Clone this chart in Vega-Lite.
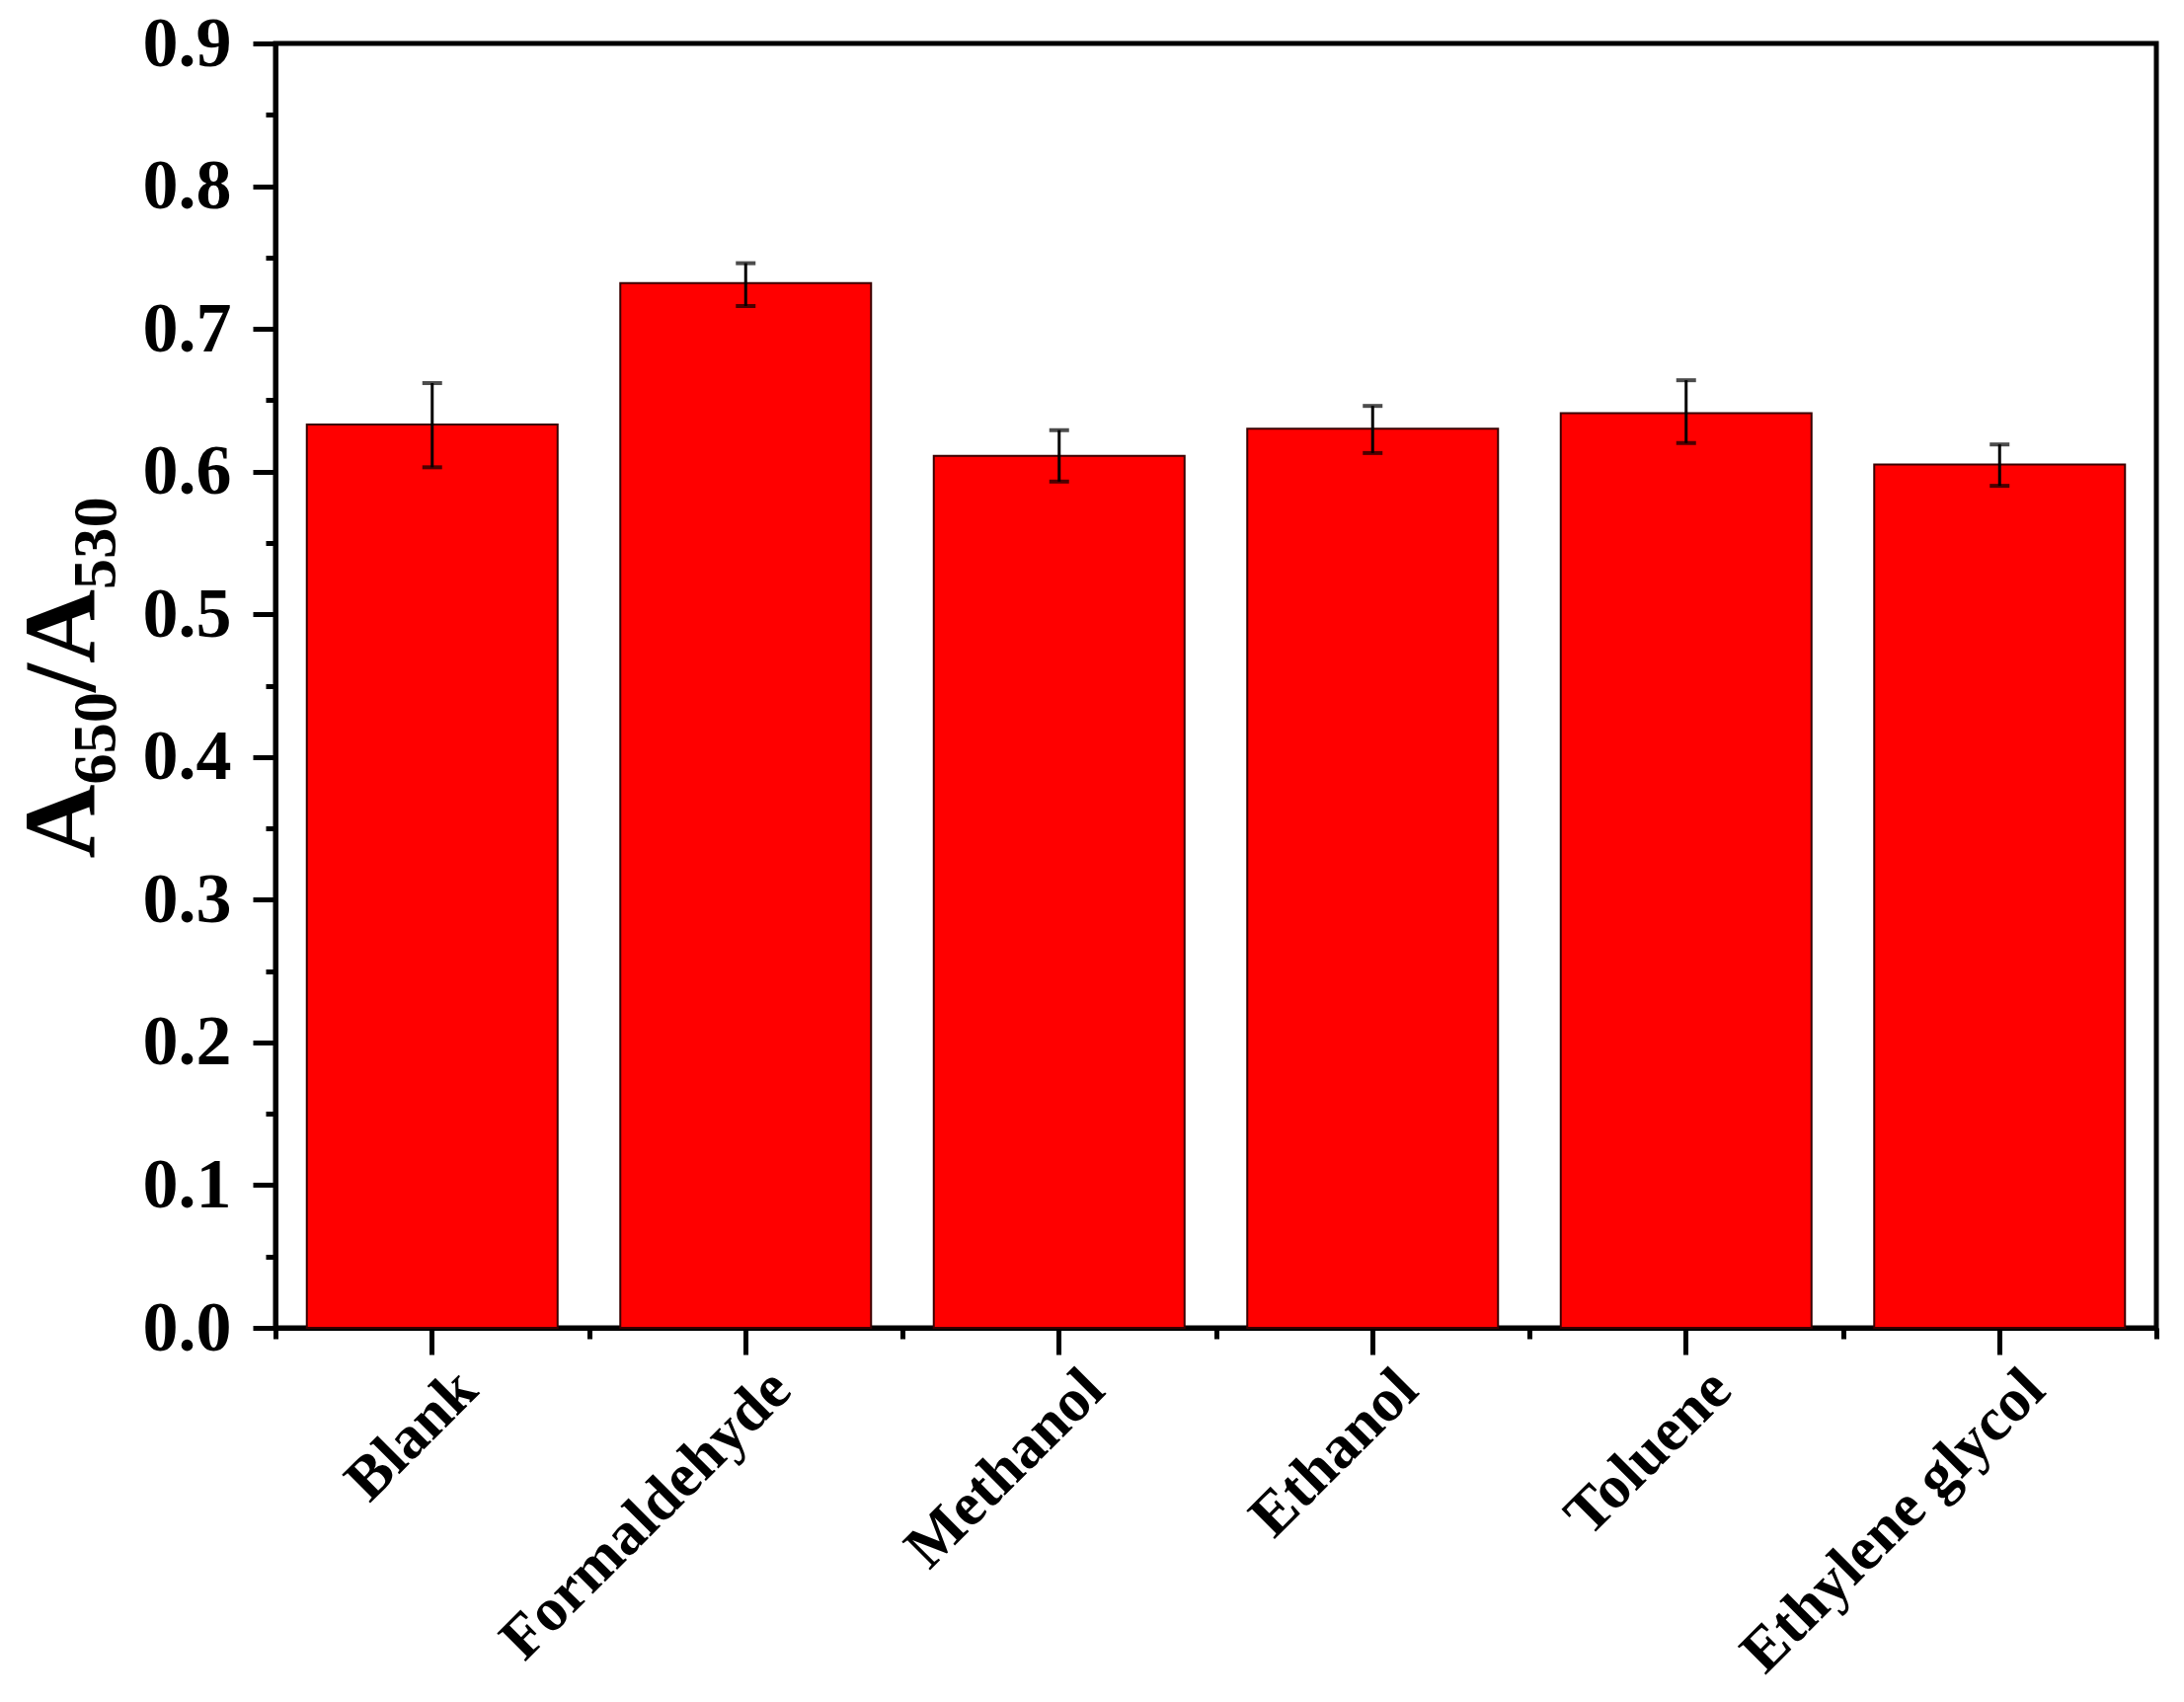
{
  "$schema": "https://vega.github.io/schema/vega-lite/v6.json",
  "width": 1905,
  "height": 1301,
  "autosize": "none",
  "padding": {"left": 279, "top": 44, "right": 28, "bottom": 379},
  "background": "white",
  "config": {
    "view": {"stroke": "black", "strokeWidth": 5},
    "font": "Liberation Serif"
  },
  "data": {
    "values": [
      {"solvent": "Blank", "value": 0.633, "lo": 0.603, "hi": 0.662},
      {"solvent": "Formaldehyde", "value": 0.732, "lo": 0.716, "hi": 0.746},
      {"solvent": "Methanol", "value": 0.611, "lo": 0.593, "hi": 0.629},
      {"solvent": "Ethanol", "value": 0.630, "lo": 0.613, "hi": 0.646},
      {"solvent": "Toluene", "value": 0.641, "lo": 0.620, "hi": 0.664},
      {"solvent": "Ethylene glycol", "value": 0.605, "lo": 0.590, "hi": 0.619}
    ]
  },
  "layer": [
    {
      "mark": {"type": "bar", "fill": "#ff0000", "stroke": "#3a0000", "strokeWidth": 2, "width": {"band": 0.8}},
      "encoding": {
        "x": {
          "field": "solvent", "type": "nominal", "sort": null,
          "scale": {"paddingInner": 0, "paddingOuter": 0},
          "axis": {
            "orient": "bottom", "title": null, "grid": false,
            "labelAngle": -45, "labelAlign": "right", "labelBaseline": "top",
            "labelFont": "Liberation Serif", "labelFontWeight": "bold", "labelFontSize": 62,
            "labelColor": "black", "labelOffset": 14, "labelPadding": 4,
            "labelLimit": 1000, "labelOverlap": false, "labelFlush": false,
            "tickSize": 27, "tickWidth": 5, "tickColor": "black",
            "domainColor": "black", "domainWidth": 5
          }
        },
        "y": {
          "field": "value", "type": "quantitative",
          "scale": {"domain": [0, 0.9], "nice": false},
          "axis": {
            "orient": "left", "grid": false,
            "values": [0, 0.1, 0.2, 0.3, 0.4, 0.5, 0.6, 0.7, 0.8, 0.9],
            "format": ".1f",
            "labelFont": "Liberation Serif", "labelFontWeight": "bold", "labelFontSize": 72,
            "labelColor": "black", "labelPadding": 22, "labelFlush": false, "labelOverlap": false,
            "tickSize": 23, "tickWidth": 5, "tickColor": "black",
            "domainColor": "black", "domainWidth": 5,
            "title": "A₆₅₀/A₅₃₀",
            "titleFont": "Liberation Serif", "titleFontWeight": "bold", "titleFontSize": 104,
            "titleColor": "black", "titleAngle": 270, "titleAlign": "center",
            "titleBaseline": "alphabetic", "titleX": -184, "titleY": 642
          }
        }
      }
    },
    {
      "mark": {"type": "rule", "color": "black", "strokeWidth": 3},
      "encoding": {
        "x": {
          "field": "solvent", "type": "nominal", "sort": null,
          "axis": {
            "orient": "bottom", "title": null, "labels": false, "domain": false, "grid": false,
            "tickBand": "extent", "tickSize": 11, "tickWidth": 5, "tickColor": "black"
          }
        },
        "y": {
          "field": "lo", "type": "quantitative",
          "axis": {
            "orient": "left", "title": null, "labels": false, "domain": false, "grid": false,
            "values": [0.05, 0.15, 0.25, 0.35, 0.45, 0.55, 0.65, 0.75, 0.85],
            "tickSize": 10, "tickWidth": 5, "tickColor": "black"
          }
        },
        "y2": {"field": "hi"}
      }
    },
    {
      "mark": {"type": "tick", "color": "black", "thickness": 4, "size": 20, "orient": "horizontal"},
      "encoding": {
        "x": {"field": "solvent", "type": "nominal", "sort": null, "axis": null},
        "y": {"field": "lo", "type": "quantitative", "axis": null}
      }
    },
    {
      "mark": {"type": "tick", "color": "black", "thickness": 4, "size": 20, "orient": "horizontal"},
      "encoding": {
        "x": {"field": "solvent", "type": "nominal", "sort": null, "axis": null},
        "y": {"field": "hi", "type": "quantitative", "axis": null}
      }
    }
  ],
  "resolve": {"axis": {"x": "independent", "y": "independent"}}
}
